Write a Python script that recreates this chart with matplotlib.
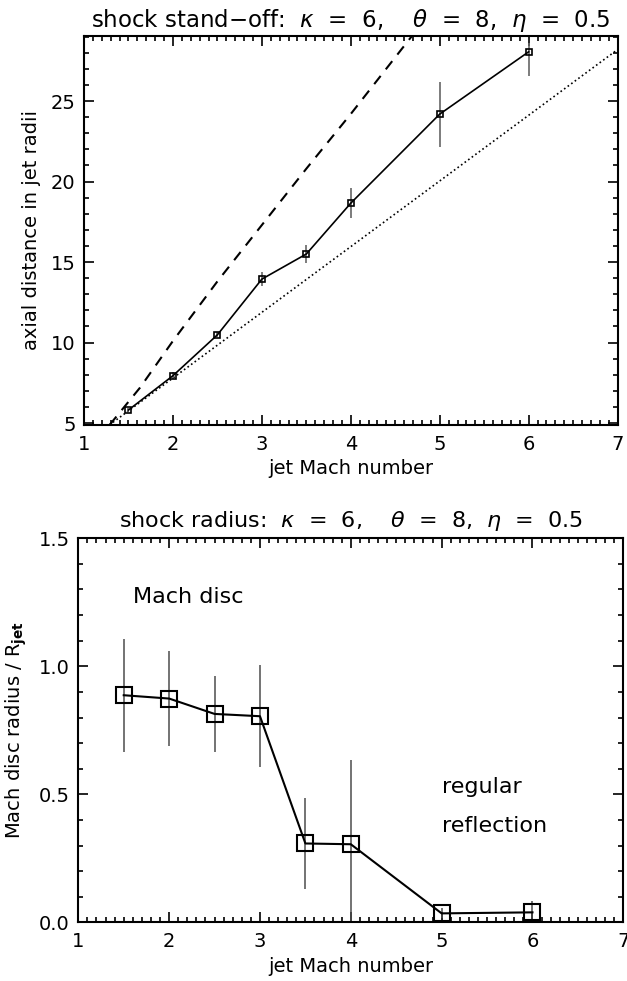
import numpy as np
import matplotlib
matplotlib.use('Agg')
import matplotlib.pyplot as plt
from matplotlib.ticker import MultipleLocator, FormatStrFormatter

# jet Mach numbers of the runs
mach = [1.5, 2, 2.5, 3, 3.5, 4, 5, 6]

# shock stand-off distance (jet radii) and error bars
standoff = [5.81, 7.94, 10.48, 13.94, 15.5, 18.66, 24.19, 28.06]
standoff_lo = [0.15, 0.2, 0.15, 0.42, 0.57, 0.93, 2.02, 1.5]
standoff_hi = [0.15, 0.2, 0.15, 0.42, 0.57, 0.93, 2.02, 0.52]

# comparison curves
dash_m = [1.29, 1.63, 2.0, 2.5, 3.0, 3.5, 4.0, 4.69]
dash_y = [4.9, 7.2, 10.1, 13.8, 17.3, 20.8, 24.2, 29.06]
dot_m = [1.285, 7.0]
dot_y = [4.88, 28.2]

# Mach disc radius / R_jet
radius = [0.887, 0.874, 0.814, 0.805, 0.308, 0.305, 0.035, 0.039]
radius_lo = [0.22, 0.185, 0.15, 0.2, 0.177, 0.33, 0.02, 0.045]
radius_hi = [0.22, 0.185, 0.15, 0.2, 0.177, 0.33, 0.02, 0.045]

plt.rcParams['font.family'] = ['DejaVu Sans']
plt.rcParams['mathtext.fontset'] = 'dejavusans'

fig = plt.figure(figsize=(6.27, 9.81), dpi=100)

def style(ax, ymaj, ymin):
    ax.xaxis.set_major_locator(MultipleLocator(1))
    ax.xaxis.set_minor_locator(MultipleLocator(0.1))
    ax.yaxis.set_major_locator(MultipleLocator(ymaj))
    ax.yaxis.set_minor_locator(MultipleLocator(ymin))
    ax.tick_params(which='both', direction='in', top=True, right=True, width=1.2)
    ax.tick_params(which='major', length=7, labelsize=14)
    ax.tick_params(which='minor', length=3.5)
    ax.tick_params(axis='x', which='major', pad=7)
    ax.tick_params(axis='y', which='major', pad=6)
    for s in ax.spines.values():
        s.set_linewidth(1.5)

# ---- top: shock stand-off
ax1 = fig.add_axes([0.134, 0.5668, 0.851, 0.3968])
ax1.plot(dash_m, dash_y, 'k--', lw=1.5, dashes=(5, 4))
ax1.plot(dot_m, dot_y, 'k:', lw=1.2)
ax1.errorbar(mach, standoff, yerr=[standoff_lo, standoff_hi], fmt='none',
             ecolor='0.4', elinewidth=1.2)
ax1.plot(mach, standoff, 'k-', lw=1.2, marker='s', ms=5, mfc='none', mew=1.2)
ax1.set_xlim(1, 7)
ax1.set_ylim(4.88, 29.06)
style(ax1, 5, 1)
ax1.set_xlabel('jet Mach number', fontsize=14, labelpad=4)
ax1.set_ylabel('axial distance in jet radii', fontsize=14, labelpad=7)
ax1.set_title(r'shock stand$-$off:  $\kappa$  =  6,    $\theta$  =  8,  $\eta$  =  0.5',
              fontsize=16.5, pad=6)

# ---- bottom: shock radius
ax2 = fig.add_axes([0.1249, 0.0598, 0.8692, 0.3915])
ax2.errorbar(mach, radius, yerr=[radius_lo, radius_hi], fmt='none',
             ecolor='0.3', elinewidth=1.1)
ax2.plot(mach, radius, 'k-', lw=1.5, marker='s', ms=11, mfc='none', mew=1.5)
ax2.set_xlim(1, 7)
ax2.set_ylim(0, 1.5)
style(ax2, 0.5, 0.1)
ax2.yaxis.set_major_formatter(FormatStrFormatter('%.1f'))
ax2.text(1.6, 1.27, 'Mach disc', fontsize=16, va='center')
ax2.text(5.0, 0.527, 'regular', fontsize=16, va='center')
ax2.text(5.0, 0.376, 'reflection', fontsize=16, va='center')
ax2.set_xlabel('jet Mach number', fontsize=14, labelpad=4)
ax2.set_ylabel(r'Mach disc radius / R$_{\mathbf{jet}}$', fontsize=14, labelpad=7)
ax2.set_title(r'shock radius:  $\kappa$  =  6,    $\theta$  =  8,  $\eta$  =  0.5',
              fontsize=16, pad=8)

fig.savefig('out.png', dpi=100)
